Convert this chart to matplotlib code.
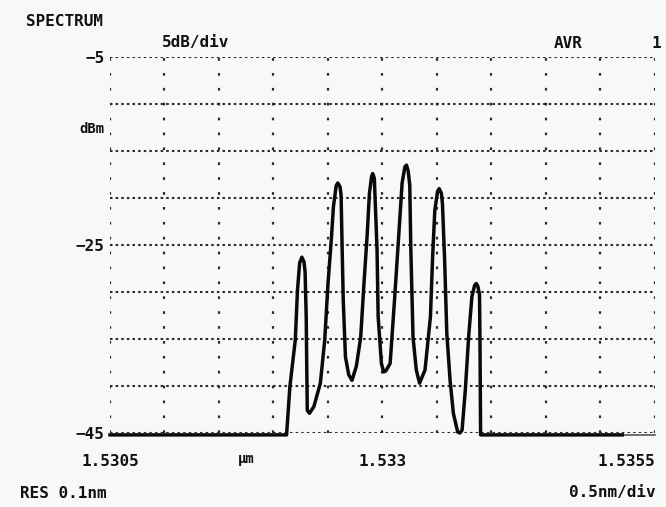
import matplotlib.pyplot as plt
import numpy as np

# spectrum trace (wavelength in nm, level in dBm)
wl_nm = [1530.5, 1532.12, 1532.15, 1532.20, 1532.22, 1532.24, 1532.26, 1532.28, 1532.29, 1532.30,
         1532.305, 1532.31, 1532.33, 1532.37, 1532.43, 1532.47, 1532.50, 1532.53, 1532.55, 1532.575,
         1532.59, 1532.61, 1532.62, 1532.63, 1532.64, 1532.66, 1532.69, 1532.72, 1532.76, 1532.80,
         1532.83, 1532.86, 1532.88, 1532.90, 1532.91, 1532.925, 1532.95, 1532.96, 1532.99, 1533.01,
         1533.03, 1533.07, 1533.11, 1533.15, 1533.18, 1533.205, 1533.22, 1533.235, 1533.25, 1533.26,
         1533.28, 1533.31, 1533.34, 1533.39, 1533.44, 1533.46, 1533.48, 1533.505, 1533.52, 1533.54,
         1533.55, 1533.57, 1533.59, 1533.62, 1533.65, 1533.69, 1533.71, 1533.73, 1533.76, 1533.79,
         1533.82, 1533.845, 1533.86, 1533.875, 1533.89, 1533.895, 1533.90, 1535.2]
level_dbm = [-45.2, -45.2, -40.1, -35.1, -29.8, -26.9, -26.3, -26.8, -27.9, -32.6,
             -37.9, -42.6, -42.9, -42.2, -39.7, -35.1, -29.1, -24.5, -20.9, -18.7,
             -18.4, -18.8, -19.7, -25.5, -30.9, -36.9, -38.8, -39.4, -37.9, -34.8,
             -29.1, -23.8, -19.5, -17.7, -17.4, -17.9, -25.5, -32.6, -37.6, -38.5,
             -38.4, -37.6, -30.9, -23.8, -18.4, -16.7, -16.5, -17.1, -18.6, -25.5,
             -34.8, -38.3, -39.7, -38.3, -32.6, -26.2, -21.3, -19.3, -19.0, -19.5,
             -20.6, -26.6, -34.4, -39.4, -42.9, -44.9, -45.0, -44.7, -40.4, -34.8,
             -30.5, -29.3, -29.1, -29.4, -30.3, -36.2, -45.2, -45.2]

y_ticks = [-5, -10, -15, -20, -25, -30, -35, -40, -45]
y_labels = ['\u22125', '', '', '', '\u221225', '', '', '', '\u221245']
x_ticks = [1530.5, 1531.0, 1531.5, 1532.0, 1532.5, 1533.0, 1533.5, 1534.0, 1534.5, 1535.0, 1535.5]
x_labels = ['1.5305', '', '', '', '', '1.533', '', '', '', '', '1.5355']

W, H = 666, 507
bg = '#f8f8f6'
font = dict(family='DejaVu Sans Mono', fontweight='bold', fontsize=11.5, color='#111111')

fig = plt.figure(figsize=(W / 100, H / 100), dpi=100, facecolor=bg)
ax = fig.add_axes([110 / W, 1 - 433 / H, (655 - 110) / W, (433 - 57) / H], facecolor=bg)

# dotted graticule
for yv in y_ticks:
    ax.axhline(yv, color='#2a2a2a', lw=1.5, ls=(0, (1.2, 1.5)), zorder=1)
for xv in x_ticks:
    ax.axvline(xv, color='#2a2a2a', lw=1.6, ls=(0, (1.2, 5.5)), zorder=1)

ax.plot(wl_nm, level_dbm, color='#0a0a0a', lw=2.5, clip_on=False, zorder=3,
        solid_joinstyle='round')
ax.plot([1535.2, 1535.5], [-45.2, -45.2], color='#555555', lw=1.2, clip_on=False)

ax.set_xlim(1530.5, 1535.5)
ax.set_ylim(-45, -5)
ax.set_yticks(y_ticks)
ax.set_yticklabels(y_labels, **font)
ax.set_xticks(x_ticks)
ax.set_xticklabels(x_labels, **font)
ax.tick_params(length=0, pad=4)
ax.tick_params(axis='x', pad=15)
xl = ax.get_xticklabels()
xl[-1].set_ha('right')
for s in ax.spines.values():
    s.set_visible(False)

def ftext(x, y, s, ha='left', **kw):
    fig.text(x / W, 1 - y / H, s, ha=ha, va='center', **{**font, **kw})

ftext(26, 21, 'SPECTRUM')
ftext(162, 43, '5dB/div')
ftext(554, 43, 'AVR')
ftext(661, 43, '1', ha='right')
ftext(105, 129, 'dBm', ha='right', fontsize=10)
ftext(246, 459, 'μm', ha='center', fontsize=10)
ftext(20, 493, 'RES 0.1nm')
ftext(656, 493, '0.5nm/div', ha='right')

fig.savefig('out.png', dpi=100, facecolor=bg)
